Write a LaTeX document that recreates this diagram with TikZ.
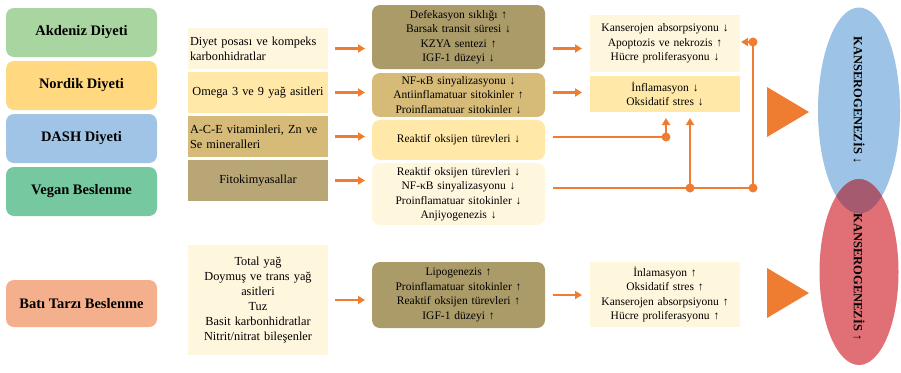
\documentclass[tikz,border=0pt]{standalone}
\usepackage{fontspec}
\setmainfont{Liberation Serif}
\usetikzlibrary{arrows.meta,positioning,shapes.geometric}
\definecolor{akdeniz}{HTML}{A8D5A0}
\definecolor{nordik}{HTML}{FFD880}
\definecolor{dash}{HTML}{A0C4E6}
\definecolor{vegan}{HTML}{76C8A0}
\definecolor{bati}{HTML}{F4B08C}
\definecolor{krem}{HTML}{FFF6DE}
\definecolor{sari}{HTML}{FFE8A8}
\definecolor{tan}{HTML}{D6BA78}
\definecolor{koyutan}{HTML}{B8A676}
\definecolor{zeytin}{HTML}{AA9B69}
\definecolor{turuncu}{HTML}{EE7D31}
\definecolor{mavi}{HTML}{9DC3E6}
\definecolor{kirmizi}{HTML}{E07076}
\definecolor{kesisim}{HTML}{A55A70}
\tikzset{
    %Define standard arrow tip
    >={Triangle[length=7pt,width=8pt]},
    %Define style for diet boxes
    diyet/.style={
           rectangle,
           rounded corners=8pt,
           outer sep=0pt,
           minimum width=151pt,
           minimum height=49pt,
           font=\fontsize{14.5}{17}\selectfont\bfseries,
           text centered},
    %Define style for nutrient boxes
    besin/.style={
           rectangle,
           outer sep=0pt,
           inner xsep=2pt,
           text width=136pt,
           minimum height=41pt,
           font=\fontsize{12.3}{15}\selectfont,
           align=center},
    %Define style for effect boxes
    etki/.style={
           rectangle,
           rounded corners=8pt,
           outer sep=0pt,
           inner xsep=2pt,
           text width=169pt,
           font=\fontsize{11.5}{14.5}\selectfont,
           align=center},
    %Define style for result boxes
    sonuc/.style={
           rectangle,
           outer sep=0pt,
           inner xsep=2pt,
           text width=146pt,
           fill=krem,
           font=\fontsize{11.5}{14.5}\selectfont,
           align=center},
    % Define arrow style
    pil/.style={
           ->,
           turuncu,
           line width=2.5pt,
           shorten <=7pt,
           shorten >=7pt},
    hat/.style={
           turuncu,
           line width=2.5pt},
    nokta/.style={
           circle,
           fill=turuncu,
           inner sep=0pt,
           minimum size=9pt},
    kanser/.style={
           ellipse,
           minimum width=82pt,
           minimum height=206pt},
    kyazi/.style={
           rotate=-90,
           font=\fontsize{12.5}{14}\selectfont\bfseries}
}
\begin{document}
\begin{tikzpicture}[x=1pt,y=1pt]
\useasboundingbox (0,0) rectangle (901,-372);
 %diets
\node[diyet, fill=akdeniz] (akd) at (81.5,-32.5) {Akdeniz Diyeti};
\node[diyet, fill=nordik, below=4pt of akd] (nor) {Nordik Diyeti};
\node[diyet, fill=dash, below=4pt of nor] (dash) {DASH Diyeti};
\node[diyet, fill=vegan, below=4pt of dash] (veg) {Vegan Beslenme};
\node[diyet, fill=bati, minimum height=47pt] (bat) at (81.5,-303.5) {Batı Tarzı Beslenme};
 %nutrients
\node[besin, fill=krem, align=left] (b1) at (258,-48.5) {Diyet posası ve kompeks\\karbonhidratlar};
\node[besin, fill=sari, below=3pt of b1] (b2) {Omega 3 ve 9 yağ asitleri};
\node[besin, fill=tan, align=left, below=3pt of b2] (b3) {A-C-E vitaminleri, Zn ve\\Se mineralleri};
\node[besin, fill=koyutan, below=3pt of b3] (b4) {Fitokimyasallar};
\node[besin, fill=krem, minimum height=110pt] (b5) at (258,-300) {Total yağ\\Doymuş ve trans yağ\\asitleri\\Tuz\\Basit karbonhidratlar\\Nitrit/nitrat bileşenler};
 %effects
\node[etki, fill=zeytin, minimum height=64pt] (e1) at (458.5,-37) {Defekasyon sıklığı ↑\\Barsak transit süresi ↓\\KZYA sentezi ↑\\IGF-1 düzeyi ↓};
\node[etki, fill=tan, minimum height=41pt, below=4pt of e1] (e2) {NF-κB sinyalizasyonu ↓\\Antiinflamatuar sitokinler ↑\\Proinflamatuar sitokinler ↓};
\node[etki, fill=sari, minimum height=40pt, below=3pt of e2] (e3) {Reaktif oksijen türevleri ↓};
\node[etki, fill=krem, minimum height=62pt, below=3pt of e3] (e4) {Reaktif oksijen türevleri ↓\\NF-κB sinyalizasyonu ↓\\Proinflamatuar sitokinler ↓\\Anjiyogenezis ↓};
\node[etki, fill=zeytin, minimum height=66pt] (e5) at (458.5,-295) {Lipogenezis ↑\\Proinflamatuar sitokinler ↑\\Reaktif oksijen türevleri ↑\\IGF-1 düzeyi ↑};
 %results
\node[sonuc, minimum height=57pt] (s1) at (665,-43.5) {Kanserojen absorpsiyonu ↓\\Apoptozis ve nekrozis ↑\\Hücre proliferasyonu ↓};
\node[sonuc, fill=sari, minimum height=36pt, below=4pt of s1] (s2) {İnflamasyon ↓\\Oksidatif stres ↓};
\node[sonuc, minimum height=65pt] (s3) at (665,-294.5) {İnlamasyon ↑\\Oksidatif stres ↑\\Kanserojen absorpsiyonu ↑\\Hücre proliferasyonu ↑};
 %junctions
\node[nokta] (j1) at (666,-137) {};
\node[nokta] (j2) at (690,-188) {};
\node[nokta] (j3) at (753,-188) {};
\node[nokta] (j4) at (753,-42) {};
 %arrows
\draw[pil] (b1.east) -- (b1.east -| e1.west);
\draw[pil] (b2.east) -- (b2.east -| e2.west);
\draw[pil] (b3.east) -- (b3.east -| e3.west);
\draw[pil] (b4.east) -- (b4.east -| e4.west);
\draw[pil] (b5.east) -- (b5.east -| e5.west);
\draw[pil, shorten <=8pt, shorten >=8pt] (e1.east |- b1) -- (s1.west |- b1);
\draw[pil, shorten <=8pt, shorten >=8pt] (e2.east |- b2) -- (s2.west |- b2);
\draw[pil, shorten <=8pt, shorten >=8pt] (e5.east) -- (e5.east -| s3.west);
\draw[hat, shorten <=8pt] (e3.east |- j1) -- (j1.center);
\draw[pil, shorten <=0pt, shorten >=6pt] (j1.center) -- (j1 |- s2.south);
\draw[hat, shorten <=8pt] (e4.east |- j2) -- (j3.center);
\draw[pil, shorten <=0pt, shorten >=6pt] (j2.center) -- (j2 |- s2.south);
\draw[hat] (j3.center) -- (j4.center);
\draw[pil, shorten <=0pt, shorten >=1pt] (j4.center) -- (j4 -| s1.east);
 %big arrows
\fill[turuncu] (767,-87) -- (809,-112) -- (767,-137) -- cycle;
\fill[turuncu] (767,-268) -- (809,-293) -- (767,-318) -- cycle;
 %carcinogenesis
\node[kanser, fill=mavi] (azal) at (859,-110.5) {};
\node[kanser, fill=kirmizi, minimum width=79pt, minimum height=186pt] (art) at (859,-272) {};
\begin{scope}
\clip (859,-110.5) ellipse (41pt and 103pt);
\fill[kesisim] (859,-272) ellipse (39.5pt and 93pt);
\end{scope}
\node[kyazi] at (859,-100) {KANSEROGENEZİS ↓};
\node[kyazi] at (859,-277) {KANSEROGENEZİS ↑};
\end{tikzpicture}
\end{document}
